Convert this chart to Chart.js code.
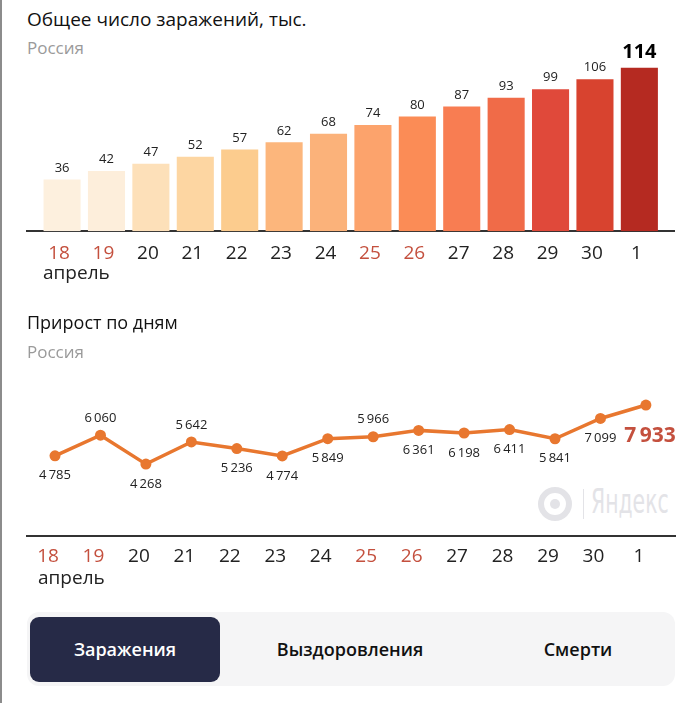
<!DOCTYPE html>
<html>
<head>
<meta charset="utf-8">
<script src="https://cdn.jsdelivr.net/npm/chart.js@4.4.0/dist/chart.umd.min.js"></script>
<style>
  body { margin: 0; background: #fff; font-family: "Open Sans", "Noto Sans", sans-serif; }
  #page { position: relative; width: 700px; height: 703px; overflow: hidden; }
  #edge { position: absolute; left: 0; top: 0; width: 2px; height: 703px; background: #8c8c8c; }
  .txt { position: absolute; white-space: nowrap; line-height: 1; }
  .title { left: 27px; font-size: 19px; color: #111; }
  .sub { left: 27px; font-size: 17px; color: #9a9a9a; }
  .month { font-size: 19px; color: #222; }
  .box { position: absolute; }
  #wm { position: absolute; left: 538px; top: 486px; width: 140px; height: 36px; }
  #wm .ring { position: absolute; left: 0; top: 1px; width: 22px; height: 22px; border: 6px solid #e3e3e7; border-radius: 50%; }
  #wm .dot { position: absolute; left: 6px; top: 6px; width: 10px; height: 10px; background: #e3e3e7; border-radius: 50%; }
  #wm .bar { position: absolute; left: 45px; top: 3px; width: 1px; height: 30px; background: #e3e3e7; }
  #wm .name { position: absolute; left: 53px; top: -2px; font-family: "DejaVu Sans", sans-serif; font-size: 34px; color: #e3e3e7; line-height: 1; transform: scaleX(0.6); transform-origin: 0 0; }
  #tabs { position: absolute; left: 27px; top: 612px; width: 648px; height: 74px; background: #f5f5f6; border-radius: 12px; }
  .tab { position: absolute; top: 5px; height: 65px; line-height: 65px; text-align: center; font-size: 18px; font-weight: 600; color: #111; }
  .tab.on { background: #262a47; color: #fff; border-radius: 9px; }
</style>
</head>
<body>
<div id="page">
  <div id="edge"></div>
  <div class="txt title" style="top:10px">Общее число заражений, тыс.</div>
  <div class="txt sub" style="top:39px">Россия</div>
  <div class="box" style="left:0;top:30px;width:700px;height:246px"><canvas id="totalChart"></canvas></div>
  <div class="txt month" style="left:43px;top:263px">апрель</div>

  <div class="txt title" style="top:313px;font-size:18px">Прирост по дням</div>
  <div class="txt sub" style="top:343px">Россия</div>
  <div id="wm"><div class="ring"><div class="dot"></div></div><div class="bar"></div><div class="name">Яндекс</div></div>
  <div class="box" style="left:0;top:370px;width:700px;height:207px"><canvas id="dailyChart"></canvas></div>
  <div class="txt month" style="left:38px;top:568px">апрель</div>

  <div id="tabs">
    <div class="tab on" style="left:3px;width:190px">Заражения</div>
    <div class="tab" style="left:228px;width:190px">Выздоровления</div>
    <div class="tab" style="left:456px;width:190px">Смерти</div>
  </div>
</div>

<script>
// days (April 18 - May 1), weekends shown in red
const days = ['18', '19', '20', '21', '22', '23', '24', '25', '26', '27', '28', '29', '30', '1'];
const weekend = [true, true, false, false, false, false, false, true, true, false, false, false, false, false];

// total cases, thousands
const totalCases = [36, 42, 47, 52, 57, 62, 68, 74, 80, 87, 93, 99, 106, 114];
const barColors = ['#fdf0de', '#fdeedb', '#fde0b9', '#fdd6a2', '#fccc8e', '#fcb67c', '#fbb27a', '#fca36c',
                   '#fb8c56', '#f87d52', '#f06b48', '#e0493a', '#d8432f', '#b52a21'];

// new cases per day
const dailyCases = [4785, 6060, 4268, 5642, 5236, 4774, 5849, 5966, 6361, 6198, 6411, 5841, 7099, 7933];
const labelAbove = [false, true, false, true, false, false, false, true, false, false, false, false, false, false];

const RED = '#c4503e';
const DARK = '#222';

function fmt(n) {
    return String(n).replace(/\B(?=(\d{3})+(?!\d))/g, '\u2009');
}

function dayTicks(scale) {
    scale.ticks = days.map((d, i) => ({ value: i }));
}

function xAxis(min, max, pad, shift) {
    return {
        type: 'linear',
        offset: false,
        min: min,
        max: max,
        afterBuildTicks: dayTicks,
        grid: { display: false, drawTicks: false },
        border: { display: true, color: '#333', width: 2 },
        ticks: {
            padding: pad,
            labelOffset: shift,
            autoSkip: false,
            maxRotation: 0,
            font: { size: 19, family: '"Open Sans", "Noto Sans", sans-serif' },
            color: ctx => weekend[ctx.index] ? RED : DARK,
            callback: (v) => days[v]
        }
    };
}

// value labels over bars
const barLabels = {
    id: 'barLabels',
    afterDatasetsDraw(chart) {
        const ctx = chart.ctx;
        const bars = chart.getDatasetMeta(0).data;
        ctx.save();
        ctx.textAlign = 'center';
        ctx.textBaseline = 'bottom';
        bars.forEach((bar, i) => {
            const last = i === bars.length - 1;
            ctx.fillStyle = last ? '#000' : DARK;
            ctx.font = last ? 'bold 20px "Open Sans", sans-serif' : '13px "Open Sans", sans-serif';
            ctx.fillText(totalCases[i], bar.x, bar.y - 5);
        });
        ctx.restore();
    }
};

// value labels near points
const pointLabels = {
    id: 'pointLabels',
    afterDatasetsDraw(chart) {
        const ctx = chart.ctx;
        const pts = chart.getDatasetMeta(0).data;
        ctx.save();
        ctx.textAlign = 'center';
        ctx.textBaseline = 'middle';
        pts.forEach((p, i) => {
            if (i === pts.length - 1) {
                ctx.fillStyle = RED;
                ctx.font = 'bold 21px "Open Sans", sans-serif';
                ctx.fillText(fmt(dailyCases[i]), p.x + 4, p.y + 31);
                return;
            }
            ctx.fillStyle = DARK;
            ctx.font = '13px "Open Sans", sans-serif';
            ctx.fillText(fmt(dailyCases[i]), p.x, p.y + (labelAbove[i] ? -17 : 20));
        });
        ctx.restore();
    }
};

document.addEventListener('DOMContentLoaded', function () {
    new Chart(document.getElementById('totalChart'), {
        type: 'bar',
        data: {
            datasets: [{
                data: totalCases.map((v, i) => ({ x: i, y: v })),
                backgroundColor: barColors,
                categoryPercentage: 1,
                barPercentage: 0.835
            }]
        },
        options: {
            responsive: true,
            maintainAspectRatio: false,
            animation: false,
            layout: { padding: { left: 27, right: 26, top: 30, bottom: 0 } },
            plugins: { legend: { display: false }, tooltip: { enabled: false } },
            scales: {
                x: xAxis(-0.79, 13.78, 11, -3),
                y: { display: false, min: 0, max: 119.4 }
            }
        },
        plugins: [barLabels]
    });

    new Chart(document.getElementById('dailyChart'), {
        type: 'line',
        data: {
            datasets: [{
                data: dailyCases.map((v, i) => ({ x: i, y: v })),
                borderColor: '#e8772f',
                backgroundColor: '#e8772f',
                borderWidth: 3.5,
                pointRadius: 5.5,
                pointBorderWidth: 0,
                tension: 0
            }]
        },
        options: {
            responsive: true,
            maintainAspectRatio: false,
            animation: false,
            layout: { padding: { left: 27, right: 25, top: 10, bottom: 0 } },
            plugins: { legend: { display: false }, tooltip: { enabled: false } },
            scales: {
                x: xAxis(-0.616, 13.64, 9, -7),
                y: { display: false, min: -203, max: 9486 }
            }
        },
        plugins: [pointLabels]
    });
});
</script>
</body>
</html>
